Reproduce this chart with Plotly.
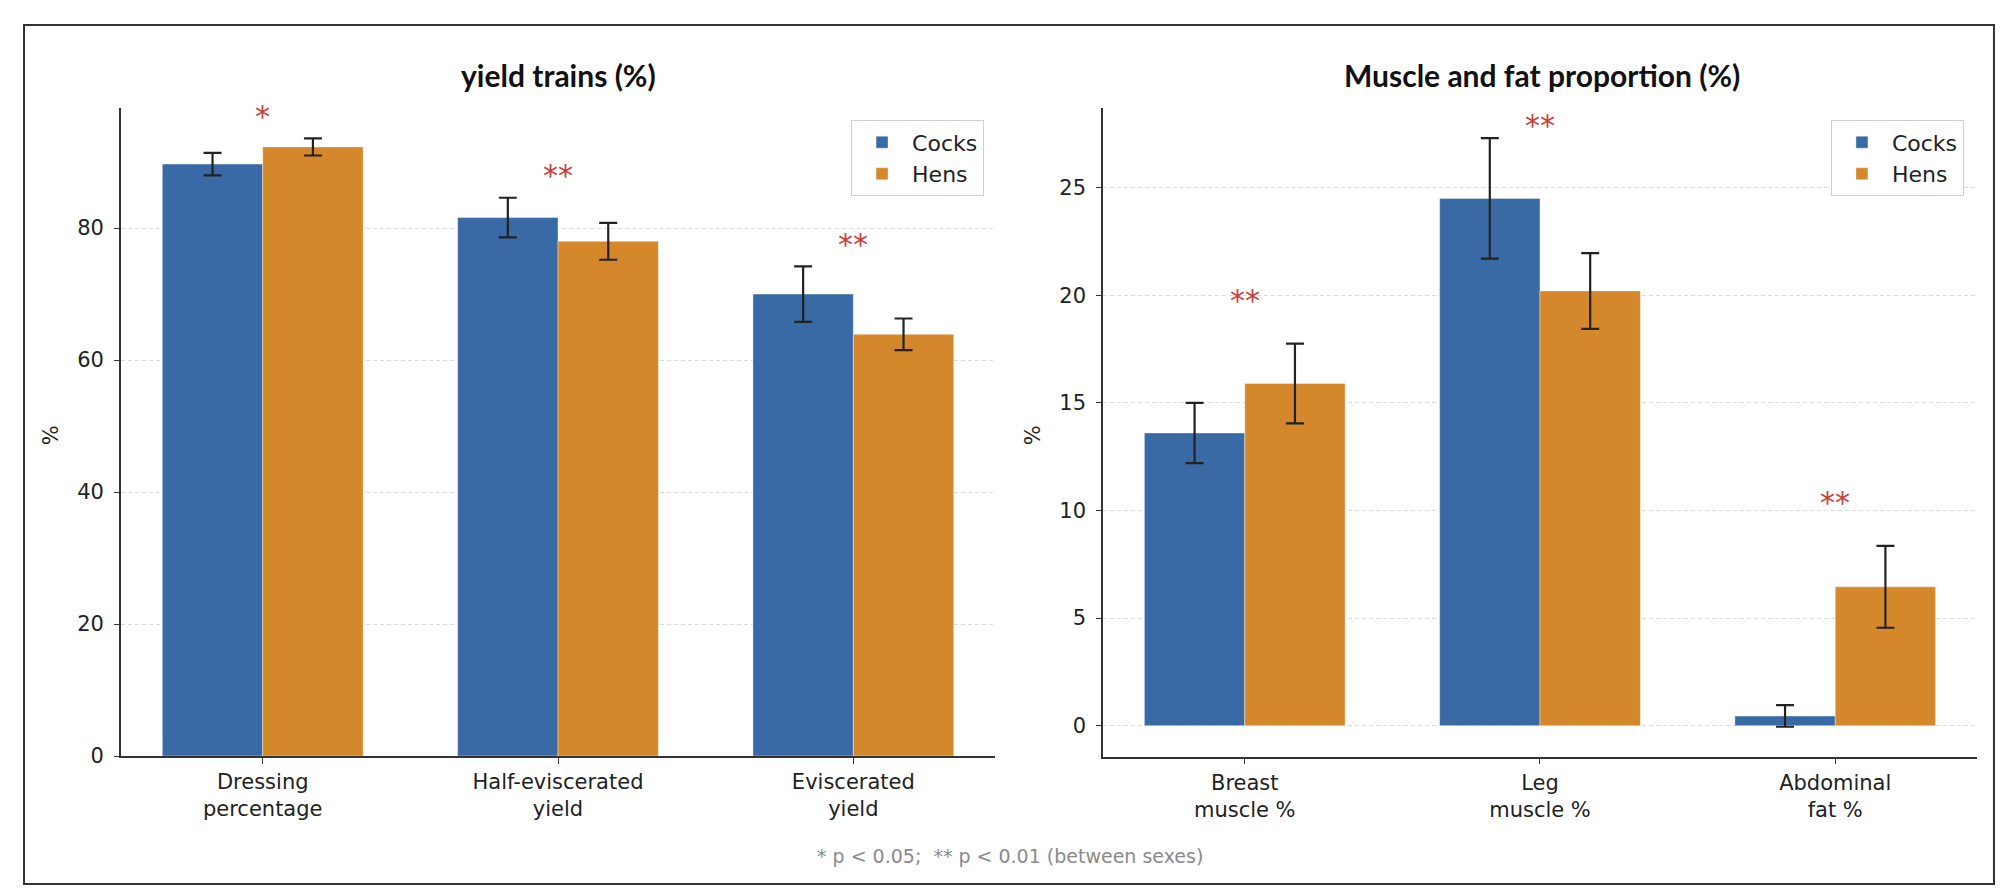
import plotly.graph_objects as go

# data
yield_labels = ["Dressing<br>percentage", "Half-eviscerated<br>yield", "Eviscerated<br>yield"]
yield_cocks = [89.7, 81.6, 70.0]
yield_cocks_err = [1.7, 3.0, 4.2]
yield_hens = [92.3, 78.0, 63.9]
yield_hens_err = [1.3, 2.8, 2.4]
yield_sig = ["*", "**", "**"]

muscle_labels = ["Breast<br>muscle %", "Leg<br>muscle %", "Abdominal<br>fat %"]
muscle_cocks = [13.6, 24.5, 0.45]
muscle_cocks_err = [1.4, 2.8, 0.5]
muscle_hens = [15.9, 20.2, 6.45]
muscle_hens_err = [1.85, 1.76, 1.9]
muscle_sig = ["**", "**", "**"]

blue = "#3a6aa5"
orange = "#d4872b"
star_red = "#c8413a"
tick_font = dict(family="DejaVu Sans", size=21, color="#222")

fig = go.Figure()

panels = [
    ("x", "y", "legend", yield_labels, yield_cocks, yield_cocks_err, yield_hens, yield_hens_err),
    ("x2", "y2", "legend2", muscle_labels, muscle_cocks, muscle_cocks_err, muscle_hens, muscle_hens_err),
]
for xa, ya, lg, labels, c, ce, h, he in panels:
    xs = list(range(len(labels)))
    fig.add_trace(go.Bar(x=xs, y=c, name="Cocks", marker_color=blue, xaxis=xa, yaxis=ya, legend=lg,
                         marker_line=dict(width=0.8, color="rgba(255,255,255,0.5)"),
                         error_y=dict(type="data", array=ce, color="#222", thickness=2.2, width=9)))
    fig.add_trace(go.Bar(x=xs, y=h, name="Hens", marker_color=orange, xaxis=xa, yaxis=ya, legend=lg,
                         marker_line=dict(width=0.8, color="rgba(255,255,255,0.5)"),
                         error_y=dict(type="data", array=he, color="#222", thickness=2.2, width=9)))

# significance stars above each pair
annos = []
for xa, ya, sig, c, ce, h, he, off, cap in [
        ("x", "y", yield_sig, yield_cocks, yield_cocks_err, yield_hens, yield_hens_err, 3.3, 97.0),
        ("x2", "y2", muscle_sig, muscle_cocks, muscle_cocks_err, muscle_hens, muscle_hens_err, 2.0, 27.9)]:
    for i, s in enumerate(sig):
        top = max(c[i] + ce[i], h[i] + he[i])
        annos.append(dict(x=i, y=min(top + off, cap), xref=xa, yref=ya, text=s, showarrow=False,
                          xanchor="center", yanchor="middle",
                          font=dict(family="DejaVu Sans", size=30, color=star_red)))

title_font = dict(family="Lato", size=30, color="#111")
annos += [
    dict(x=0.2746, y=0.925, xref="paper", yref="paper", text="<b>yield trains (%)</b>",
         xanchor="center", yanchor="middle", showarrow=False, font=title_font),
    dict(x=0.766, y=0.925, xref="paper", yref="paper", text="<b>Muscle and fat proportion (%)</b>",
         xanchor="center", yanchor="middle", showarrow=False, font=title_font),
    dict(x=0.0215, y=0.521, xref="paper", yref="paper", text="%", textangle=-90,
         xanchor="center", yanchor="middle", showarrow=False, font=tick_font),
    dict(x=0.5117, y=0.521, xref="paper", yref="paper", text="%", textangle=-90,
         xanchor="center", yanchor="middle", showarrow=False, font=tick_font),
    dict(x=0.5, y=0.049, xref="paper", yref="paper",
         text="* p < 0.05;\u00a0 ** p < 0.01 (between sexes)",
         xanchor="center", yanchor="middle", showarrow=False,
         font=dict(family="DejaVu Sans", size=19, color="#8a8a8a")),
]

xcommon = dict(range=[-0.48, 2.48], tickvals=[0, 1, 2], showline=True, linecolor="#333", linewidth=1.6,
               ticks="outside", ticklen=6, tickcolor="#333", showgrid=False, zeroline=False,
               tickfont=tick_font, automargin=False)
ycommon = dict(showline=True, linecolor="#333", linewidth=1.6, ticks="outside", ticklen=5,
               tickcolor="#333", showgrid=True, gridcolor="#dcdcdc", griddash="4px,3px", gridwidth=1,
               zeroline=False, tickfont=tick_font, automargin=False, ticklabelstandoff=6)

legend_style = dict(bgcolor="white", bordercolor="#cfcfcf", borderwidth=1, itemwidth=50,
                    font=dict(family="DejaVu Sans", size=22, color="#222"),
                    xanchor="right", yanchor="top", y=0.874)

fig.update_layout(
    width=2003, height=892, margin=dict(l=0, r=0, t=0, b=0),
    plot_bgcolor="white", paper_bgcolor="white",
    barmode="group", bargap=0.32, bargroupgap=0,
    xaxis=dict(domain=[0.0564, 0.4928], ticktext=yield_labels, anchor="y", **xcommon),
    yaxis=dict(domain=[0.1614, 0.8879], range=[0, 98.2], tickvals=[0, 20, 40, 60, 80], anchor="x", **ycommon),
    xaxis2=dict(domain=[0.5467, 0.983], ticktext=muscle_labels, anchor="y2", **xcommon),
    yaxis2=dict(domain=[0.1607, 0.8879], range=[-1.44, 28.7], tickvals=[0, 5, 10, 15, 20, 25], anchor="x2", **ycommon),
    legend=dict(x=0.4873, **legend_style),
    legend2=dict(x=0.9765, **legend_style),
    annotations=annos,
    shapes=[dict(type="rect", xref="paper", yref="paper", x0=0.008, x1=0.9915, y0=0.018, y1=0.981,
                 line=dict(color="#333", width=2))],
)

fig.write_html("out.html")
